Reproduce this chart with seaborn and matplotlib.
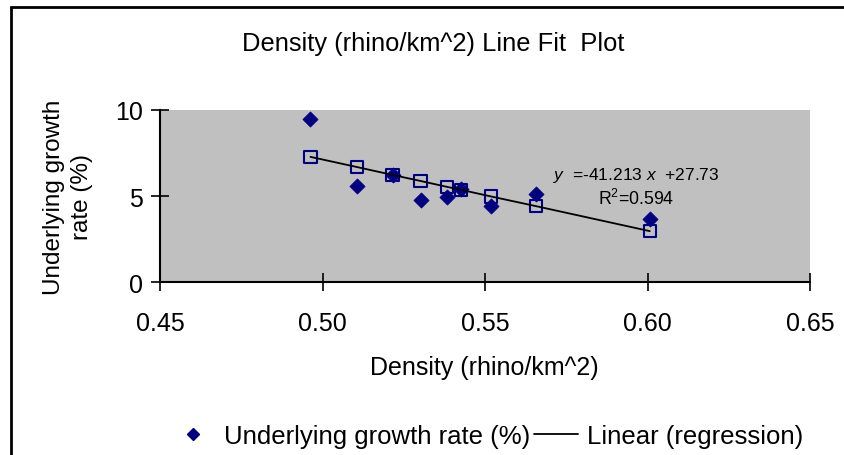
import matplotlib
matplotlib.use("Agg")
import matplotlib.pyplot as plt
from matplotlib.patches import Rectangle
from matplotlib.lines import Line2D
import seaborn as sns
import pandas as pd

density = [0.4963, 0.5106, 0.5216, 0.5302, 0.5383, 0.5426, 0.5519, 0.5657, 0.6007]
growth = [9.48, 5.57, 6.23, 4.78, 4.93, 5.41, 4.41, 5.12, 3.67]
predicted = [7.28, 6.69, 6.23, 5.88, 5.54, 5.37, 4.98, 4.42, 2.97]
x_ticks = [0.45, 0.50, 0.55, 0.60, 0.65]
y_ticks = [0, 5, 10]

df = pd.DataFrame({"density": density, "growth": growth, "predicted": predicted})

sns.set_theme(style="white")
plt.rcParams["font.family"] = ["Liberation Sans", "DejaVu Sans"]
plt.rcParams["mathtext.fontset"] = "custom"
plt.rcParams["mathtext.rm"] = "Liberation Sans"
plt.rcParams["mathtext.it"] = "Liberation Sans:italic"
plt.rcParams["text.color"] = "black"
plt.rcParams["axes.labelcolor"] = "black"

FS = 18
navy = "#000080"

fig = plt.figure(figsize=(8.44, 4.56), dpi=100)
fig.patch.set_facecolor("white")
ax = fig.add_axes([160 / 844, 1 - 283.3 / 456, 650 / 844, 172.3 / 456])
ax.set_facecolor("#C0C0C0")

sns.scatterplot(data=df, x="density", y="predicted", ax=ax, marker="s", s=80,
                facecolor="none", edgecolor=navy, linewidth=1.5, zorder=3)
sns.scatterplot(data=df, x="density", y="growth", ax=ax, marker="D", s=60,
                color=navy, edgecolor=navy, linewidth=0.5, zorder=4)
sns.lineplot(data=df, x="density", y="predicted", ax=ax, color="black",
             linewidth=1.3, zorder=5)

ax.set_xlim(0.45, 0.65)
ax.set_ylim(0, 10)
ax.set_xticks(x_ticks)
ax.set_xticklabels([f"{t:.2f}" for t in x_ticks])
ax.set_yticks(y_ticks)
ax.set_yticklabels([str(t) for t in y_ticks])
ax.tick_params(axis="both", direction="inout", length=13, width=1.2,
               colors="black", labelsize=FS, left=True, bottom=True)
ax.tick_params(axis="x", pad=14)
ax.tick_params(axis="y", pad=6)
for s in ["top", "right"]:
    ax.spines[s].set_visible(False)
for s in ["left", "bottom"]:
    ax.spines[s].set_visible(True)
    ax.spines[s].set_color("black")
    ax.spines[s].set_linewidth(1.5)

ax.set_xlabel("Density (rhino/km^2)", fontsize=FS, va="center")
ax.xaxis.set_label_coords((484 - 160) / 650, (283.3 - 368) / 172.3)
ax.set_ylabel("Underlying growth\nrate (%)", fontsize=FS - 0.5, va="center",
              linespacing=1.35)
ax.yaxis.set_label_coords((68 - 160) / 650, (283.3 - 197) / 172.3)

fig.text(433 / 844, 1 - 44 / 456, "Density (rhino/km^2) Line Fit  Plot",
         ha="center", va="center", fontsize=FS + 0.4)

ax.text(636 / 844, 1 - 176 / 456, r"$\it{y}$  =-41.213 $\it{x}$  +27.73",
        transform=fig.transFigure, ha="center", va="center", fontsize=12.5)
ax.text(636 / 844, 1 - 199 / 456, r"R$^2$=0.594",
        transform=fig.transFigure, ha="center", va="center", fontsize=12.8)

handles = [
    Line2D([], [], marker="D", color=navy, linestyle="none", markersize=6),
    Line2D([], [], color="black", linewidth=1.3),
]
fig.legend(handles, ["Underlying growth rate (%)", "Linear (regression)"],
           loc="center", bbox_to_anchor=(487 / 844, 1 - 437 / 456), ncol=2,
           frameon=False, fontsize=FS + 0.5, handlelength=1.72, handletextpad=0.33,
           columnspacing=0.15, borderpad=0)

fig.patches.append(Rectangle((11 / 844, -1), 2, 1 + (1 - 7.5 / 456),
                             transform=fig.transFigure, fill=False,
                             edgecolor="black", linewidth=2.0))

fig.savefig("out.png", dpi=100)
